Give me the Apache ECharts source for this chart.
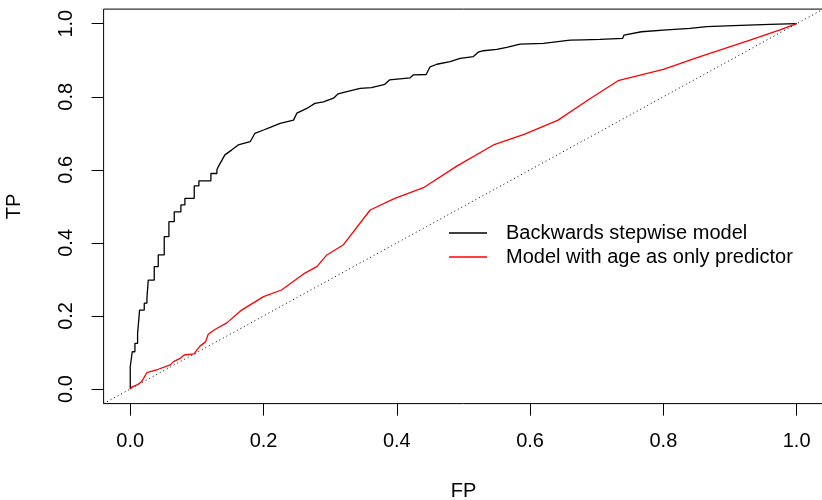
<!DOCTYPE html>
<html>
<head>
<meta charset="utf-8">
<script src="https://cdn.jsdelivr.net/npm/echarts@6/dist/echarts.min.js"></script>
<style>
  html, body { margin: 0; padding: 0; background: #fff; }
  #chart { width: 822px; height: 500px; }
</style>
</head>
<body>
<div id="chart"></div>
<script>
// ROC curves: [FP, TP]
const stepwiseRoc = [
  [0, 0], [0, 0.061], [0.003, 0.061], [0.003, 0.102], [0.007, 0.102], [0.007, 0.125],
  [0.011, 0.125], [0.011, 0.152], [0.014, 0.152], [0.014, 0.216], [0.021, 0.216], [0.021, 0.235],
  [0.025, 0.235], [0.025, 0.248], [0.027, 0.248], [0.027, 0.298], [0.036, 0.298], [0.036, 0.335],
  [0.042, 0.335], [0.042, 0.367], [0.051, 0.367], [0.051, 0.417], [0.058, 0.417], [0.058, 0.458],
  [0.066, 0.458], [0.066, 0.485], [0.076, 0.485], [0.076, 0.504], [0.082, 0.504], [0.082, 0.522],
  [0.096, 0.522], [0.096, 0.556], [0.103, 0.556], [0.103, 0.570], [0.121, 0.570], [0.121, 0.590],
  [0.130, 0.590], [0.130, 0.600], [0.132, 0.608], [0.142, 0.641], [0.152, 0.654], [0.162, 0.668],
  [0.180, 0.677], [0.187, 0.700], [0.200, 0.709], [0.210, 0.716], [0.225, 0.727], [0.245, 0.736],
  [0.250, 0.755], [0.265, 0.768], [0.277, 0.782], [0.290, 0.786], [0.305, 0.796], [0.312, 0.808],
  [0.325, 0.814], [0.345, 0.823], [0.362, 0.825], [0.382, 0.834], [0.389, 0.846], [0.420, 0.852],
  [0.425, 0.860], [0.444, 0.861], [0.450, 0.882], [0.460, 0.889], [0.480, 0.896], [0.495, 0.905],
  [0.515, 0.910], [0.522, 0.922], [0.530, 0.926], [0.550, 0.930], [0.565, 0.935], [0.585, 0.944],
  [0.620, 0.946], [0.660, 0.955], [0.680, 0.956], [0.705, 0.957], [0.739, 0.960], [0.741, 0.969],
  [0.767, 0.978], [0.805, 0.983], [0.840, 0.987], [0.865, 0.992], [0.905, 0.995], [0.960, 0.998],
  [1, 1]
];

const ageRoc = [
  [0, 0], [0.003, 0.006], [0.010, 0.011], [0.012, 0.016], [0.017, 0.020], [0.020, 0.029],
  [0.025, 0.045], [0.042, 0.054], [0.060, 0.066], [0.065, 0.075], [0.075, 0.084], [0.081, 0.093],
  [0.096, 0.096], [0.100, 0.107], [0.105, 0.118], [0.113, 0.129], [0.117, 0.150], [0.127, 0.163],
  [0.145, 0.181], [0.167, 0.216], [0.200, 0.253], [0.227, 0.271], [0.260, 0.315], [0.280, 0.335],
  [0.295, 0.367], [0.320, 0.395], [0.360, 0.490], [0.397, 0.522], [0.440, 0.551], [0.490, 0.610],
  [0.545, 0.668], [0.592, 0.698], [0.642, 0.736], [0.687, 0.791], [0.732, 0.844], [0.800, 0.875],
  [0.855, 0.910], [0.930, 0.955], [0.975, 0.983], [1, 1]
];

// reference diagonal (abline 0,1), spans the whole plot region
const diagonal = [[-0.04, -0.04], [1.04, 1.04]];

const tickValues = [0, 0.2, 0.4, 0.6, 0.8, 1.0];
const seriesNames = ['Backwards stepwise model', 'Model with age as only predictor'];

const chart = echarts.init(document.getElementById('chart'));
const font = 'Liberation Sans, Arial, sans-serif';

function axisCommon(name) {
  return {
    type: 'value',
    min: -0.04,
    max: 1.04,
    name: name,
    nameLocation: 'middle',
    nameTextStyle: { fontFamily: font, fontSize: 20, color: '#000' },
    axisLine: { show: false, onZero: false },
    splitLine: { show: false },
    axisTick: { show: true, inside: false, length: 12, customValues: tickValues,
                lineStyle: { color: '#000', width: 1 } },
    axisLabel: { customValues: tickValues, fontFamily: font, fontSize: 20, color: '#000',
                 formatter: v => v.toFixed(1) }
  };
}

const xAxis = axisCommon('FP');
xAxis.nameGap = 78;
xAxis.axisLabel.margin = 28;

const yAxis = axisCommon('TP');
yAxis.nameGap = 79;
yAxis.axisLabel.rotate = 90;
yAxis.axisLabel.margin = 27;

chart.setOption({
  animation: false,
  grid: {
    left: 103.6, top: 9.1, width: 719.7, height: 394.5,
    outerBoundsMode: 'none', containLabel: false,
    show: true, borderColor: '#000', borderWidth: 1, backgroundColor: 'transparent'
  },
  xAxis: xAxis,
  yAxis: yAxis,
  legend: {
    data: seriesNames,
    orient: 'vertical',
    left: 449,
    top: 223,
    padding: 0,
    itemGap: 4,
    icon: 'rect',
    itemWidth: 38,
    itemHeight: 1.5,
    textStyle: { fontFamily: font, fontSize: 20, color: '#000', lineHeight: 20, padding: [0, 0, 0, 14] }
  },
  series: [
    {
      name: 'diagonal',
      type: 'line',
      data: diagonal,
      symbol: 'none',
      silent: true,
      lineStyle: { color: '#000', width: 1, type: [1, 3] }
    },
    {
      name: seriesNames[0],
      type: 'line',
      data: stepwiseRoc,
      symbol: 'none',
      color: '#000',
      lineStyle: { color: '#000', width: 1.3 }
    },
    {
      name: seriesNames[1],
      type: 'line',
      data: ageRoc,
      symbol: 'none',
      color: '#ff0000',
      lineStyle: { color: '#ff0000', width: 1.3 }
    }
  ]
});

window.addEventListener('resize', () => chart.resize());
</script>
</body>
</html>
